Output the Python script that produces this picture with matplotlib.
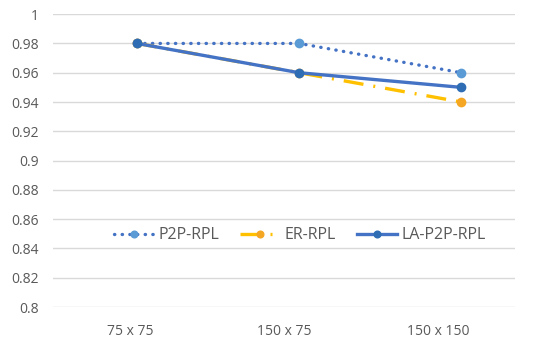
import numpy as np
import matplotlib.pyplot as plt

categories = ['75 x 75', '150 x 75', '150 x 150']
p2p_rpl = [0.98, 0.98, 0.96]
er_rpl = [0.98, 0.96, 0.94]
la_p2p_rpl = [0.98, 0.96, 0.95]

plt.rcParams['font.family'] = ['Open Sans', 'DejaVu Sans']

fig = plt.figure(figsize=(5.5, 3.45), dpi=100)
ax = fig.add_axes([0.096, 0.110, 0.840, 0.849])

x = np.arange(len(categories))

ax.plot(x, p2p_rpl, color='#4472C4', linestyle=(0, (0.1, 2.2)), linewidth=2.4,
        marker='o', markersize=6, markerfacecolor='#5B9BD5', markeredgecolor='#5B9BD5',
        dash_capstyle='round', label='P2P-RPL', zorder=3)
ax.plot(x, er_rpl, color='#FFC000', linestyle=(0, (6, 3, 0.6, 3)), linewidth=2.4,
        marker='o', markersize=6, markerfacecolor='#F5A623', markeredgecolor='#F5A623',
        label='ER-RPL', zorder=3)
ax.plot(x, la_p2p_rpl, color='#4472C4', linestyle='-', linewidth=2.4,
        marker='o', markersize=6, markerfacecolor='#2E6DB4', markeredgecolor='#2E6DB4',
        label='LA-P2P-RPL', zorder=4)

lo, hi = -0.52, 2.33
ax.set_xlim(lo, hi)
slot = (hi - lo) / len(categories)
ax.set_xticks([lo + (i + 0.5) * slot for i in range(len(categories))])
ax.set_xticklabels(categories)

ax.set_ylim(0.8, 1.0)
yt = np.arange(0.8, 1.001, 0.02)
ax.set_yticks(yt)
ax.set_yticklabels(['%g' % round(v, 2) for v in yt])
ax.grid(axis='y', color='#D9D9D9', linewidth=1)
ax.set_axisbelow(True)

for s in ax.spines.values():
    s.set_visible(False)
ax.tick_params(axis='both', length=0, labelsize=10, labelcolor='#595959')
ax.tick_params(axis='y', pad=10)
ax.tick_params(axis='x', pad=12)

leg = ax.legend(loc='center', bbox_to_anchor=(0.535, 0.245), ncol=3, frameon=False,
                fontsize=11.5, handlelength=2.5, columnspacing=1.3, handletextpad=0.3,
                markerscale=0.8)
for t in leg.get_texts():
    t.set_color('#595959')

fig.savefig('out.png', dpi=100)
